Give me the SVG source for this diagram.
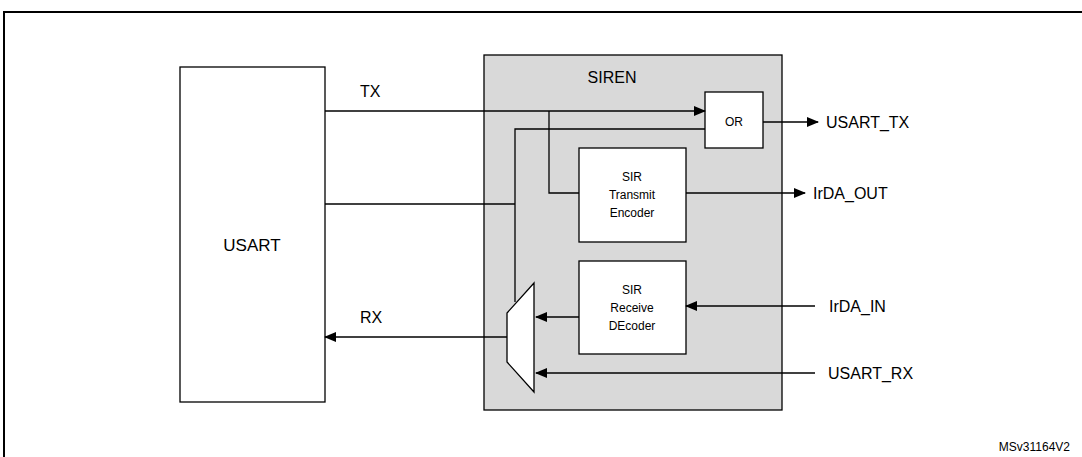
<svg xmlns="http://www.w3.org/2000/svg" width="1082" height="457" viewBox="0 0 1082 457">
<defs>
<style>
text{font-family:"Liberation Sans",Arial,sans-serif;fill:#000}
.w{fill:#fff;stroke:#000;stroke-width:1.3}
.l{fill:none;stroke:#000;stroke-width:1.3}
</style>
<marker id="a" markerWidth="12" markerHeight="10" refX="11" refY="5" orient="auto" markerUnits="userSpaceOnUse"><path d="M0,0L12,5L0,10z" fill="#000"/></marker>
</defs>
<rect x="0" y="0" width="1082" height="457" fill="#fff"/>
<rect x="4" y="12" width="1080" height="450" fill="none" stroke="#000" stroke-width="2"/>
<g id="siren"><rect x="484" y="55" width="298" height="355" fill="#d9d9d9" stroke="#000" stroke-width="1.3"/><text x="612" y="83" font-size="16" text-anchor="middle">SIREN</text></g>
<g id="usart"><rect class="w" x="180" y="67" width="145" height="335"/><text x="252" y="251" font-size="17" text-anchor="middle">USART</text></g>
<g id="or"><rect class="w" x="705" y="92" width="58" height="56"/><text x="734" y="126" font-size="12" text-anchor="middle">OR</text></g>
<g id="enc"><rect class="w" x="579" y="148" width="107" height="94"/><text font-size="12" text-anchor="middle"><tspan x="632" y="181">SIR</tspan><tspan x="632" y="199">Transmit</tspan><tspan x="632" y="217">Encoder</tspan></text></g>
<g id="dec"><rect class="w" x="579" y="261" width="107" height="93"/><text font-size="12" text-anchor="middle"><tspan x="632" y="294">SIR</tspan><tspan x="632" y="312">Receive</tspan><tspan x="632" y="330">DEcoder</tspan></text></g>
<g id="mux"><path class="w" d="M534,283L534,392L507,362L507,313Z"/></g>
<g id="connectors">
<path class="l" d="M325,111H705" marker-end="url(#a)"/>
<path class="l" d="M549,111V193H579"/>
<path class="l" d="M705,129H515V302"/>
<path class="l" d="M325,204H515"/>
<path class="l" d="M763,122H818" marker-end="url(#a)"/>
<path class="l" d="M686,193H805" marker-end="url(#a)"/>
<path class="l" d="M815,306H686" marker-end="url(#a)"/>
<path class="l" d="M579,317H536" marker-end="url(#a)"/>
<path class="l" d="M815,373H536" marker-end="url(#a)"/>
<path class="l" d="M507,337H325" marker-end="url(#a)"/>
</g>
<text x="360" y="97" font-size="16">TX</text>
<text x="360" y="323" font-size="16">RX</text>
<text x="826" y="128" font-size="16">USART_TX</text>
<text x="813" y="199" font-size="16">IrDA_OUT</text>
<text x="829" y="312" font-size="16">IrDA_IN</text>
<text x="828" y="379" font-size="16">USART_RX</text>
<text x="1070" y="451" font-size="12" text-anchor="end">MSv31164V2</text>
</svg>
